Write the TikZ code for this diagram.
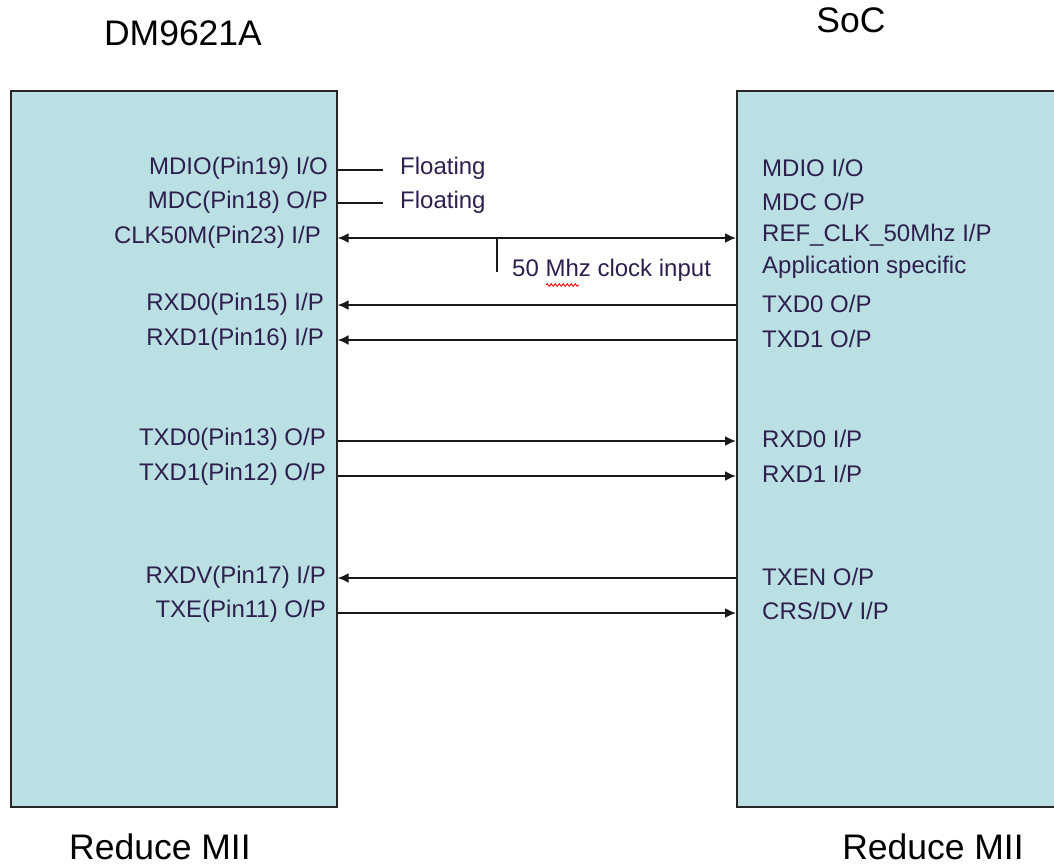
\documentclass[tikz,border=0pt]{standalone}
\usepackage{fontspec}
\setmainfont{Liberation Sans}
\usetikzlibrary{arrows.meta,decorations.pathmorphing}
\definecolor{boxfill}{HTML}{BBE0E3}
\definecolor{lbl}{HTML}{2E1F4F}
\tikzset{
  chip/.style={draw=black!85, line width=1.6pt, fill=boxfill, anchor=north west, inner sep=0pt},
  title/.style={font=\fontsize{35.5}{40}\selectfont, text=black, inner sep=0pt},
  lpin/.style={font=\fontsize{24}{28}\selectfont, text=lbl, anchor=east, inner sep=0pt},
  rpin/.style={font=\fontsize{24}{28}\selectfont, text=lbl, anchor=west, inner sep=0pt},
  wire/.style={line width=1.9pt, draw=black!90},
  sig/.style={wire, -{Latex[length=11pt,width=10pt]}},
  bsig/.style={wire, {Latex[length=11pt,width=10pt]}-{Latex[length=11pt,width=10pt]}}
}
\begin{document}
\begin{tikzpicture}[x=1pt,y=-1pt]
\clip (0,0) rectangle (1054,865);
\fill[white] (0,0) rectangle (1054,865);
% shadows
\fill[black!70] (12,92) rectangle (338,808);
\fill[black!70] (738,92) rectangle (1080,808);
\node[chip, minimum width=326pt, minimum height=716pt] (L) at (10,90) {};
\node[chip, minimum width=340pt, minimum height=716pt] (R) at (736,90) {};
% titles
\node[title] (tl) at (183,33) {DM9621A};
\node[title] (tr) at (851,20) {SoC};
\node[title, anchor=base, text depth=0pt] (bl) at (160,859) {Reduce MII};
\node[title, anchor=base, text depth=0pt] (br) at (933,859) {Reduce MII};
% left labels
\node[lpin] (l1) at (328,168) {MDIO(Pin19) I/O};
\node[lpin] (l2) at (328,202) {MDC(Pin18) O/P};
\node[lpin] (l3) at (321,237) {CLK50M(Pin23) I/P};
\node[lpin] (l4) at (324,304) {RXD0(Pin15) I/P};
\node[lpin] (l5) at (324,339) {RXD1(Pin16) I/P};
\node[lpin] (l6) at (326,439) {TXD0(Pin13) O/P};
\node[lpin] (l7) at (326,474) {TXD1(Pin12) O/P};
\node[lpin] (l8) at (326,577) {RXDV(Pin17) I/P};
\node[lpin] (l9) at (326,611) {TXE(Pin11) O/P};
% right labels
\node[rpin] (r1) at (762,168) {MDIO I/O};
\node[rpin] (r2) at (762,202) {MDC O/P};
\node[rpin] (r3) at (762,235) {REF\_CLK\_50Mhz I/P};
\node[rpin] (r3b) at (762,267) {Application specific};
\node[rpin] (r4) at (762,304) {TXD0 O/P};
\node[rpin] (r5) at (762,339) {TXD1 O/P};
\node[rpin] (r6) at (762,439) {RXD0 I/P};
\node[rpin] (r7) at (762,474) {RXD1 I/P};
\node[rpin] (r8) at (762,577) {TXEN O/P};
\node[rpin] (r9) at (762,611) {CRS/DV I/P};
% floating
\node[rpin] (f1) at (400,168) {Floating};
\node[rpin] (f2) at (400,202) {Floating};
\draw[wire] (L.east |- 0,170) -- (383,170);
\draw[wire] (L.east |- 0,203) -- (383,203);
% clock
\draw[bsig] (L.east |- 0,238) -- (R.west |- 0,238);
\coordinate (tk) at (497,238);
\coordinate (tkb) at (497,272);
\draw[wire] (tk) -- (tkb);
\node[rpin] (clk) at (512,270) {50 Mhz clock input};
\draw[red, line width=0.9pt, decorate, decoration={snake, amplitude=1.3pt, segment length=4pt}] (546,285) -- (579,285);
% signals
\draw[sig] (R.west |- 0,305) -- (L.east |- 0,305);
\draw[sig] (R.west |- 0,340) -- (L.east |- 0,340);
\draw[sig] (L.east |- 0,441) -- (R.west |- 0,441);
\draw[sig] (L.east |- 0,476) -- (R.west |- 0,476);
\draw[sig] (R.west |- 0,578) -- (L.east |- 0,578);
\draw[sig] (L.east |- 0,613) -- (R.west |- 0,613);
\end{tikzpicture}
\end{document}
